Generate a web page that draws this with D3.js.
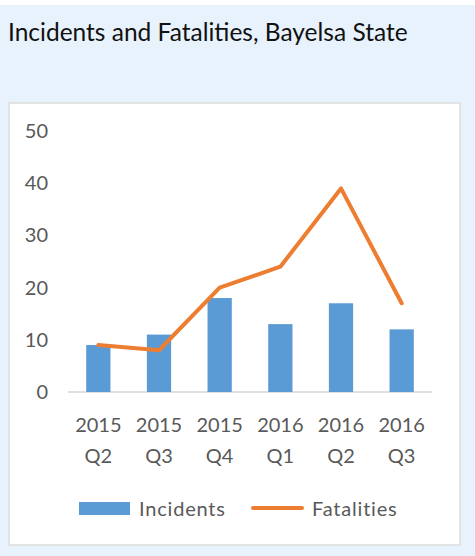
<!DOCTYPE html>
<html>
<head>
<meta charset="utf-8">
<script src="https://cdn.jsdelivr.net/npm/d3@7"></script>
<style>
  body { margin: 0; background: #fff; }
  text { font-family: Lato, "Open Sans", sans-serif; }
</style>
</head>
<body>
<div id="container"></div>
<script>
/* DATA */
const quarters = ["2015 Q2", "2015 Q3", "2015 Q4", "2016 Q1", "2016 Q2", "2016 Q3"];
const incidents = [9, 11, 18, 13, 17, 12];
const fatalities = [9, 8, 20, 24, 39, 17];
const yTicks = [0, 10, 20, 30, 40, 50];

/* CONSTANTS */
const width = 475, height = 556;
const blue = "#5b9bd5", orange = "#ed7d31", grey = "#595959";

const svg = d3.select("#container")
  .append("svg")
  .attr("width", width)
  .attr("height", height);

// background + panel
svg.append("rect")
  .attr("x", 0).attr("y", 5)
  .attr("width", width).attr("height", height - 5)
  .attr("fill", "#e8f2fc");

svg.append("rect")
  .attr("x", 9).attr("y", 103)
  .attr("width", 451).attr("height", 442)
  .attr("fill", "#fff")
  .attr("stroke", "#dcdcdc")
  .attr("stroke-width", 1.5);

svg.append("text")
  .attr("x", 8).attr("y", 41)
  .attr("font-size", 24.5)
  .attr("fill", "#111")
  .text("Incidents and Fatalities, Bayelsa State");

// SCALES
const xScale = d3.scaleBand()
  .domain(quarters)
  .range([68, 432])
  .paddingInner(0.6)
  .paddingOuter(0.3);

const yScale = d3.scaleLinear()
  .domain([0, 50])
  .range([392, 131]);

// Y AXIS labels
svg.selectAll(".ytick")
  .data(yTicks)
  .join("text")
  .attr("class", "ytick")
  .attr("x", 48)
  .attr("y", d => yScale(d))
  .attr("dy", "0.35em")
  .attr("text-anchor", "end")
  .attr("font-size", 20)
  .attr("fill", grey)
  .text(d => d);

// baseline
svg.append("line")
  .attr("x1", 68).attr("x2", 432)
  .attr("y1", yScale(0)).attr("y2", yScale(0))
  .attr("stroke", "#e0e0e0")
  .attr("stroke-width", 2);

// BARS
svg.selectAll(".bar")
  .data(incidents)
  .join("rect")
  .attr("class", "bar")
  .attr("x", (d, i) => xScale(quarters[i]))
  .attr("y", d => yScale(d))
  .attr("width", xScale.bandwidth())
  .attr("height", d => yScale(0) - yScale(d))
  .attr("fill", blue);

// LINE
const line = d3.line()
  .x((d, i) => xScale(quarters[i]) + xScale.bandwidth() / 2)
  .y(d => yScale(d));

svg.append("path")
  .datum(fatalities)
  .attr("d", line)
  .attr("fill", "none")
  .attr("stroke", orange)
  .attr("stroke-width", 4)
  .attr("stroke-linejoin", "round")
  .attr("stroke-linecap", "round");

// X labels (two lines)
const xl = svg.selectAll(".xtick")
  .data(quarters)
  .join("text")
  .attr("class", "xtick")
  .attr("text-anchor", "middle")
  .attr("font-size", 20)
  .attr("fill", grey);

xl.append("tspan")
  .attr("x", d => xScale(d) + xScale.bandwidth() / 2)
  .attr("y", 432)
  .text(d => d.split(" ")[0]);

xl.append("tspan")
  .attr("x", d => xScale(d) + xScale.bandwidth() / 2)
  .attr("y", 463)
  .text(d => d.split(" ")[1]);

// LEGEND
svg.append("rect")
  .attr("x", 79).attr("y", 502)
  .attr("width", 51).attr("height", 13)
  .attr("fill", blue);

svg.append("text")
  .attr("x", 139).attr("y", 509)
  .attr("dy", "0.35em")
  .attr("font-size", 20)
  .attr("letter-spacing", 0.8)
  .attr("fill", grey)
  .text("Incidents");

svg.append("line")
  .attr("x1", 253).attr("x2", 302)
  .attr("y1", 508).attr("y2", 508)
  .attr("stroke", orange)
  .attr("stroke-width", 4)
  .attr("stroke-linecap", "round");

svg.append("text")
  .attr("x", 312).attr("y", 509)
  .attr("dy", "0.35em")
  .attr("font-size", 20)
  .attr("letter-spacing", 0.8)
  .attr("fill", grey)
  .text("Fatalities");
</script>
</body>
</html>
